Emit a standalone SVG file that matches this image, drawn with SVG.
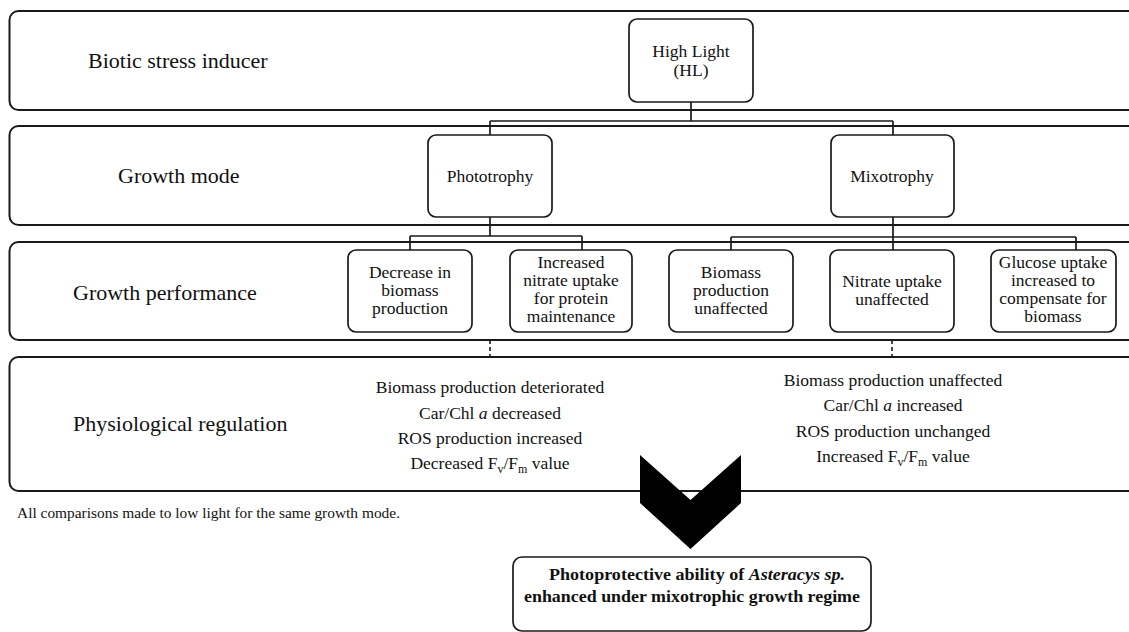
<svg xmlns="http://www.w3.org/2000/svg" width="1129" height="632" viewBox="0 0 1129 632">
<style>
.band{fill:#fff;stroke:#1a1a1a;stroke-width:2}
.box{fill:#fff;stroke:#1a1a1a;stroke-width:1.7}
.lbl{font-family:"Liberation Serif","Times New Roman",serif;font-size:22px;fill:#111}
.t{font-family:"Liberation Serif","Times New Roman",serif;font-size:17.5px;fill:#111;text-anchor:middle}
.fn{font-family:"Liberation Serif","Times New Roman",serif;font-size:15px;fill:#111}
.b{font-family:"Liberation Serif","Times New Roman",serif;font-size:17.5px;font-weight:bold;fill:#111;text-anchor:middle}
.c{fill:none;stroke:#1a1a1a;stroke-width:1.7}
.d{fill:none;stroke:#1a1a1a;stroke-width:1.6;stroke-dasharray:4 3}
</style>
<g id="band-biotic">
<rect class="band" x="9.5" y="11" width="1140" height="99" rx="9"/>
<text class="lbl" x="88" y="68">Biotic stress inducer</text>
</g>
<g id="band-growth-mode">
<rect class="band" x="9.5" y="126" width="1140" height="99" rx="9"/>
<text class="lbl" x="118" y="183">Growth mode</text>
</g>
<g id="band-growth-performance">
<rect class="band" x="9.5" y="242" width="1140" height="98" rx="9"/>
<text class="lbl" x="73" y="300">Growth performance</text>
</g>
<g id="band-physiological">
<rect class="band" x="9.5" y="357" width="1140" height="134" rx="9"/>
<text class="lbl" x="73" y="431">Physiological regulation</text>
<text class="t" x="490" y="393">Biomass production deteriorated</text>
<text class="t" x="490" y="419">Car/Chl <tspan font-style="italic">a</tspan> decreased</text>
<text class="t" x="490" y="444">ROS production increased</text>
<text class="t" x="490" y="469">Decreased F<tspan font-size="12" dy="4">v</tspan><tspan dy="-4">/F</tspan><tspan font-size="12" dy="4">m</tspan><tspan dy="-4"> value</tspan></text>
<text class="t" x="893" y="386">Biomass production unaffected</text>
<text class="t" x="893" y="411">Car/Chl <tspan font-style="italic">a</tspan> increased</text>
<text class="t" x="893" y="437">ROS production unchanged</text>
<text class="t" x="893" y="462">Increased F<tspan font-size="12" dy="4">v</tspan><tspan dy="-4">/F</tspan><tspan font-size="12" dy="4">m</tspan><tspan dy="-4"> value</tspan></text>
</g>
<g id="connectors">
<path class="c" d="M691 102 V121 M490 121 H893 M490 121 V135 M893 121 V135"/>
<path class="c" d="M490 217 V236 M410 236 H582 M410 236 V250 M582 236 V250"/>
<path class="c" d="M893 217 V250 M731 237 H1076 M731 237 V250 M1076 237 V250"/>
<path class="d" d="M490 340 V357 M892 340 V357"/>
</g>
<g id="node-hl">
<rect class="box" x="629" y="19" width="124" height="83" rx="8"/>
<text class="t" x="691" y="57">High Light</text>
<text class="t" x="691" y="76">(HL)</text>
</g>
<g id="node-phototrophy">
<rect class="box" x="428" y="135" width="124" height="82" rx="8"/>
<text class="t" x="490" y="182">Phototrophy</text>
</g>
<g id="node-mixotrophy">
<rect class="box" x="831" y="135" width="123" height="82" rx="8"/>
<text class="t" x="892" y="182">Mixotrophy</text>
</g>
<g id="node-decrease-biomass">
<rect class="box" x="348" y="250" width="124" height="82" rx="8"/>
<text class="t" x="410" y="278">Decrease in</text>
<text class="t" x="410" y="296">biomass</text>
<text class="t" x="410" y="314">production</text>
</g>
<g id="node-nitrate-increased">
<rect class="box" x="510" y="250" width="122" height="82" rx="8"/>
<text class="t" x="571" y="268">Increased</text>
<text class="t" x="571" y="286">nitrate uptake</text>
<text class="t" x="571" y="304">for protein</text>
<text class="t" x="571" y="322">maintenance</text>
</g>
<g id="node-biomass-unaffected">
<rect class="box" x="669" y="250" width="124" height="82" rx="8"/>
<text class="t" x="731" y="278">Biomass</text>
<text class="t" x="731" y="296">production</text>
<text class="t" x="731" y="314">unaffected</text>
</g>
<g id="node-nitrate-unaffected">
<rect class="box" x="830" y="250" width="124" height="82" rx="8"/>
<text class="t" x="892" y="287">Nitrate uptake</text>
<text class="t" x="892" y="305">unaffected</text>
</g>
<g id="node-glucose">
<rect class="box" x="991" y="250" width="125" height="82" rx="8"/>
<text class="t" x="1053" y="268">Glucose uptake</text>
<text class="t" x="1053" y="286">increased to</text>
<text class="t" x="1053" y="304">compensate for</text>
<text class="t" x="1053" y="322">biomass</text>
</g>
<g id="footnote">
<text class="fn" x="17" y="518" textLength="383" lengthAdjust="spacingAndGlyphs">All comparisons made to low light for the same growth mode.</text>
</g>
<g id="chevron">
<polygon points="640,455 690.5,500 741,455 741,503 690.5,549 640,503" fill="#000"/>
</g>
<g id="node-conclusion">
<rect class="box" x="513" y="557" width="358" height="74" rx="9"/>
<text class="b" x="697" y="580" textLength="296" lengthAdjust="spacingAndGlyphs">Photoprotective ability of <tspan font-style="italic">Asteracys sp.</tspan></text>
<text class="b" x="692" y="602" textLength="336" lengthAdjust="spacingAndGlyphs">enhanced under mixotrophic growth regime</text>
</g>
</svg>
